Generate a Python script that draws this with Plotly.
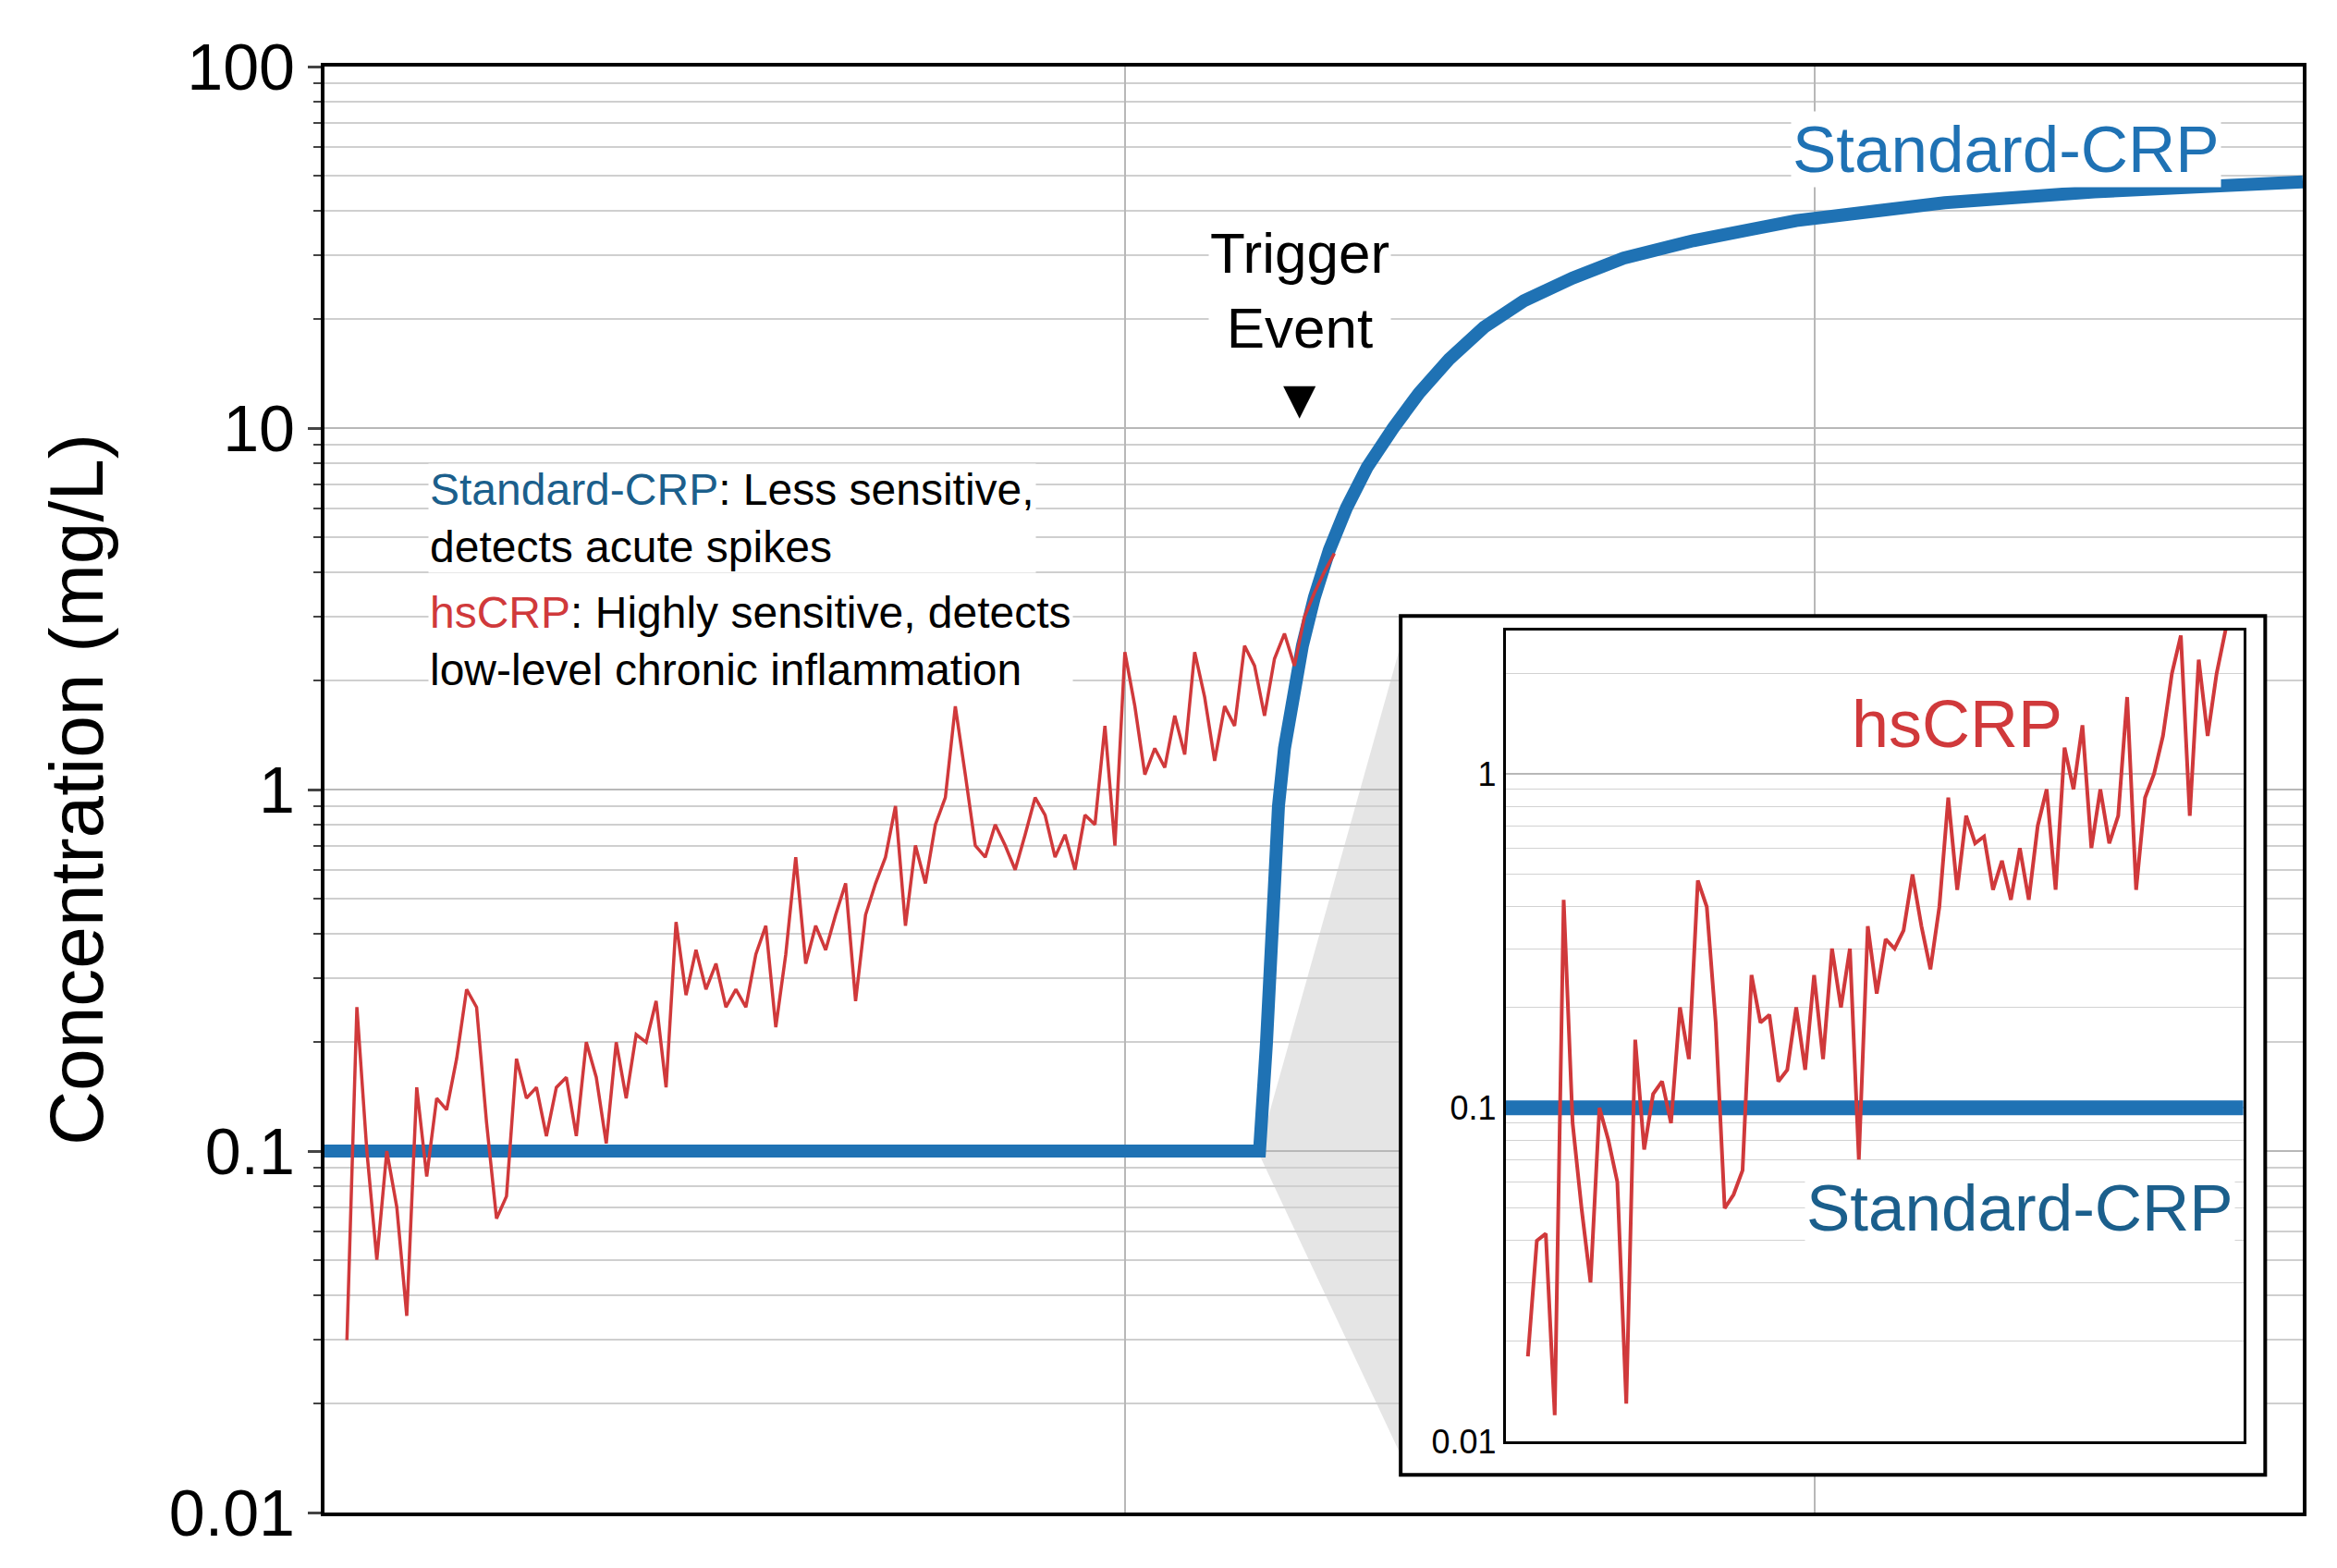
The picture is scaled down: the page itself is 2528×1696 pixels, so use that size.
import plotly.graph_objects as go

# hsCRP main series (one reading per step), mg/L
hs_main = [0.03, 0.25, 0.1, 0.05, 0.1, 0.07, 0.035, 0.15, 0.085, 0.14, 0.13, 0.18, 0.28, 0.25, 0.12,
           0.065, 0.075, 0.18, 0.14, 0.15, 0.11, 0.15, 0.16, 0.11, 0.2, 0.16, 0.105, 0.2, 0.14, 0.21,
           0.2, 0.26, 0.15, 0.43, 0.27, 0.36, 0.28, 0.33, 0.25, 0.28, 0.25, 0.35, 0.42, 0.22, 0.35,
           0.65, 0.33, 0.42, 0.36, 0.45, 0.55, 0.26, 0.45, 0.55, 0.65, 0.9, 0.42, 0.7, 0.55, 0.8,
           0.95, 1.7, 1.1, 0.7, 0.65, 0.8, 0.7, 0.6, 0.75, 0.95, 0.85, 0.65, 0.75, 0.6, 0.85,
           0.8, 1.5, 0.7, 2.4, 1.7, 1.1, 1.3, 1.15, 1.6, 1.25, 2.4, 1.8, 1.2, 1.7, 1.5,
           2.5, 2.2, 1.6, 2.3, 2.7, 2.2, 3.0, 3.5, 4.0, 4.5]
hs_main_t = list(range(len(hs_main)))

# Standard CRP curve
crp_t = [-2.25, 91.5, 92.2, 92.8, 93.4, 94.0, 94.8, 95.8, 97.0, 98.5, 100.2, 102.3, 104.9, 107.5,
         110.5, 114.0, 118.0, 122.9, 128.0, 135.0, 145.3, 160.2, 175.2, 196.1]
crp_v = [0.1, 0.1, 0.2, 0.45, 0.9, 1.3, 1.8, 2.5, 3.4, 4.6, 6.0, 7.8, 10, 12.5,
         15.5, 19, 22.5, 26, 29.5, 33, 37.5, 42, 45, 48]

# inset (zoomed) hsCRP series
hs_zoom = [0.018, 0.04, 0.042, 0.012, 0.42, 0.09, 0.05, 0.03, 0.1, 0.08, 0.06, 0.013, 0.16, 0.075, 0.11,
           0.12, 0.09, 0.2, 0.14, 0.48, 0.4, 0.18, 0.05, 0.055, 0.065, 0.25, 0.18, 0.19, 0.12, 0.13,
           0.2, 0.13, 0.25, 0.14, 0.3, 0.2, 0.3, 0.07, 0.35, 0.22, 0.32, 0.3, 0.34, 0.5, 0.35,
           0.26, 0.4, 0.85, 0.45, 0.75, 0.62, 0.65, 0.45, 0.55, 0.42, 0.6, 0.42, 0.7, 0.9, 0.45,
           1.2, 0.9, 1.4, 0.6, 0.9, 0.62, 0.75, 1.7, 0.45, 0.85, 1.0, 1.3, 2.0, 2.6, 0.75,
           2.2, 1.3, 2.0, 2.7]
hs_zoom_t = list(range(len(hs_zoom)))
zoom_crp_t = [-2.5, 80]
zoom_crp_v = [0.1, 0.1]

minor_vals = [m * 10 ** e for e in (-2, -1, 0, 1) for m in range(2, 10)]

BLUE = "#1f72b4"
RED = "#d0393b"
TXT_BLUE = "#1b5f8c"
FONT = "Liberation Sans, Arial, sans-serif"

fig = go.Figure()
fig.add_trace(go.Scatter(x=crp_t, y=crp_v, mode="lines", line=dict(color=BLUE, width=14),
                         showlegend=False))
fig.add_trace(go.Scatter(x=hs_main_t, y=hs_main, mode="lines", line=dict(color=RED, width=3.5),
                         showlegend=False))
# white backing for the inset frame
fig.add_trace(go.Scatter(x=[0], y=[0], mode="markers", marker=dict(opacity=0),
                         xaxis="x2", yaxis="y2", showlegend=False, hoverinfo="skip"))
fig.add_trace(go.Scatter(x=zoom_crp_t, y=zoom_crp_v, mode="lines", line=dict(color=BLUE, width=16),
                         xaxis="x3", yaxis="y3", showlegend=False))
fig.add_trace(go.Scatter(x=hs_zoom_t, y=hs_zoom, mode="lines", line=dict(color=RED, width=4),
                         xaxis="x3", yaxis="y3", showlegend=False))

grid = "#b8b8b8"
fig.update_layout(
    width=2528, height=1696,
    margin=dict(l=343, r=45, t=64, b=68),
    paper_bgcolor="white", plot_bgcolor="white",
    font=dict(family=FONT, color="black"),
    xaxis=dict(range=[-2.25, 196.1], tickvals=[78, 147.2], showticklabels=False, ticks="",
               showgrid=True, gridcolor=grid, gridwidth=2, zeroline=False,
               showline=True, linecolor="black", linewidth=4, mirror=True),
    yaxis=dict(type="log", range=[-2, 2], tickvals=[0.01, 0.1, 1, 10, 100],
               ticktext=["0.01", "0.1", "1", "10", "100"], tickfont=dict(size=70),
               ticks="outside", ticklen=14, tickwidth=3, showgrid=True, gridcolor=grid, gridwidth=2,
               minor=dict(tickvals=minor_vals, showgrid=True, gridcolor="#cfcfcf", gridwidth=1.5,
                          ticks="outside", ticklen=8, tickwidth=2),
               showline=True, linecolor="black", linewidth=4, mirror=True,
               title=dict(text="Concentration (mg/L)", font=dict(size=82), standoff=45)),
    xaxis2=dict(domain=[0.544, 0.981], anchor="y2", visible=False, range=[0, 1]),
    yaxis2=dict(domain=[0.026, 0.62], anchor="x2", visible=False, range=[0, 1]),
    xaxis3=dict(domain=[0.597, 0.970], anchor="y3", range=[-2.5, 80], showticklabels=False,
                ticks="", showgrid=False, zeroline=False,
                showline=True, linecolor="black", linewidth=2.5, mirror=True),
    yaxis3=dict(domain=[0.049, 0.610], anchor="x3", type="log", range=[-2, 0.43],
                tickvals=[0.01, 0.1, 1], ticktext=["0.01", "0.1", "1"], tickfont=dict(size=36),
                ticks="", showgrid=True, gridcolor=grid, gridwidth=1.5,
                minor=dict(tickvals=minor_vals, showgrid=True, gridcolor="#d2d2d2", gridwidth=1),
                showline=True, linecolor="black", linewidth=2.5, mirror=True),
)

# shadow wedge from the zoom point to the inset
fig.add_shape(type="path", xref="paper", yref="paper",
              path="M 0.472 0.249 L 0.544 0.60 L 0.544 0.04 Z",
              fillcolor="rgba(0,0,0,0.10)", line=dict(width=0), layer="below")
# inset frame
fig.add_shape(type="rect", xref="paper", yref="paper", x0=0.544, x1=0.981, y0=0.026, y1=0.62,
              line=dict(color="black", width=4), fillcolor="rgba(0,0,0,0)")

fig.add_annotation(x=0.85, y=1.77, xref="paper", yref="y", xanchor="center",
                   text="Standard-CRP", showarrow=False, font=dict(size=71, color=BLUE),
                   bgcolor="white")
fig.add_annotation(x=95.5, y=1.38, xref="x", yref="y", text="Trigger<br>Event",
                   showarrow=False, font=dict(size=62), bgcolor="white", yanchor="middle")
fig.add_annotation(x=95.5, y=1.08, xref="x", yref="y", text="▼", showarrow=False,
                   font=dict(size=60))
fig.add_annotation(x=8.1, y=0.75, xref="x", yref="y", xanchor="left", align="left",
                   text="<span style='color:%s'>Standard-CRP</span>: Less sensitive,<br>detects acute spikes" % TXT_BLUE,
                   showarrow=False, font=dict(size=48), bgcolor="white")
fig.add_annotation(x=8.1, y=0.41, xref="x", yref="y", xanchor="left", align="left",
                   text="<span style='color:%s'>hsCRP</span>: Highly sensitive, detects<br>low-level chronic inflammation" % RED,
                   showarrow=False, font=dict(size=48), bgcolor="white")
fig.add_annotation(x=48, y=0.15, xref="x3", yref="y3", text="hsCRP", showarrow=False,
                   font=dict(size=72, color=RED))
fig.add_annotation(x=55, y=-1.3, xref="x3", yref="y3", text="Standard-CRP", showarrow=False,
                   font=dict(size=71, color=TXT_BLUE), bgcolor="white")

fig.write_html("out.html")
